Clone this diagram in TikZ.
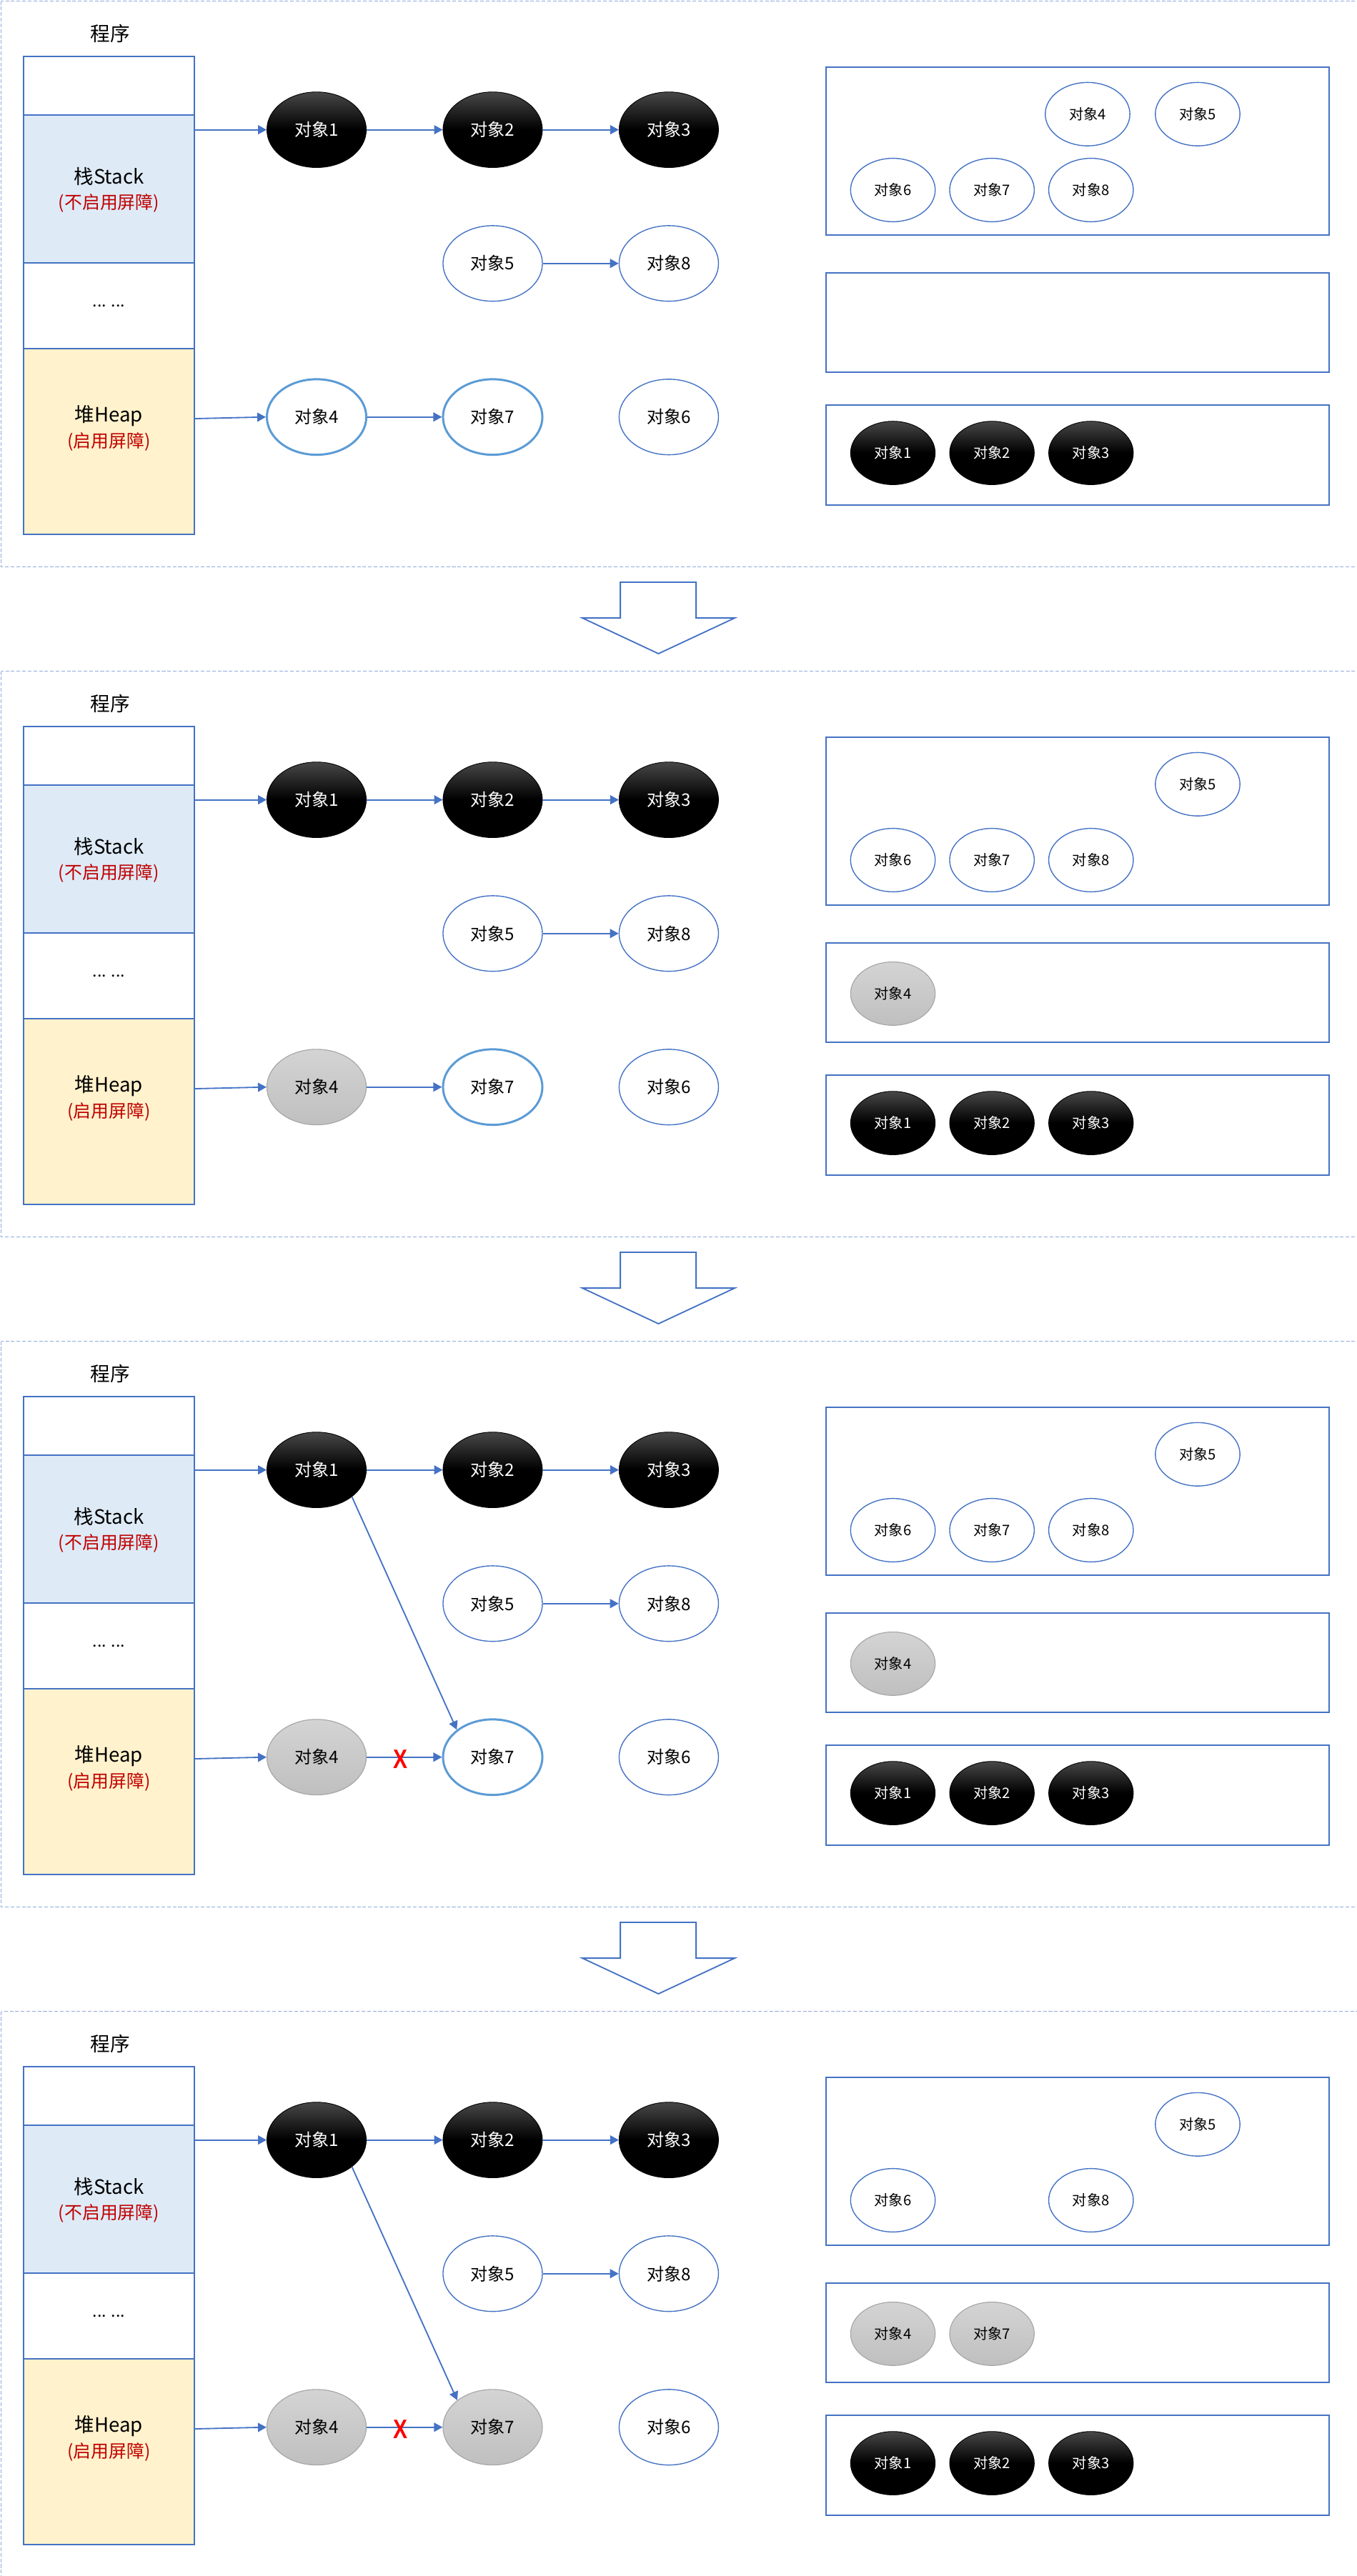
\documentclass[tikz,border=0pt]{standalone}
\usepackage{fontspec}
\setmainfont{Noto Sans CJK SC}
\newfontfamily\xmarkfont{Liberation Sans}
\usepackage{xcolor}
\usepackage{tikz}
\usetikzlibrary{shapes.geometric, arrows.meta, positioning}
\definecolor{office}{HTML}{4472C4}
\definecolor{barrier}{HTML}{5B9BD5}
\definecolor{framecol}{HTML}{8FAADC}
\definecolor{stackfill}{HTML}{DEEBF7}
\definecolor{heapfill}{HTML}{FFF2CC}
\definecolor{redtext}{HTML}{C00000}
\tikzstyle{cell} = [rectangle, draw=office, line width=0.8pt, minimum width=103.8pt, inner sep=0pt]
\tikzstyle{pool} = [rectangle, draw=office, line width=0.8pt, minimum width=306.2pt, inner sep=0pt]
\tikzstyle{obj} = [ellipse, minimum width=60.5pt, minimum height=46pt, inner sep=0pt, font=\fontsize{10.5}{12}\selectfont]
\tikzstyle{blackobj} = [obj, draw=black, top color=black!72, bottom color=black, middle color=black, text=white]
\tikzstyle{whiteobj} = [obj, draw=office, line width=0.6pt, fill=white]
\tikzstyle{heapobj} = [obj, draw=barrier, line width=1.3pt, fill=white]
\tikzstyle{greyobj} = [obj, draw=black!35, line width=0.5pt, top color=black!17, bottom color=black!25]
\tikzstyle{mini} = [minimum width=51.5pt, minimum height=38.6pt, font=\fontsize{8.8}{10}\selectfont]
\tikzstyle{arrow} = [draw=office, line width=0.8pt, -{Triangle[length=5.2pt, width=5.5pt]}]
\tikzstyle{frame} = [draw=framecol, line width=0.7pt, dash pattern=on 2.2pt off 1.2pt]
\tikzstyle{bigarrow} = [draw=office, line width=0.8pt, fill=white]
\tikzstyle{title} = [font=\fontsize{12}{14}\selectfont]
\tikzstyle{note} = [text=redtext, font=\fontsize{10.8}{12}\selectfont]
\tikzstyle{cut} = [text=red, font=\xmarkfont\bfseries\fontsize{16.3}{17}\selectfont, xscale=0.8, transform shape]

\begin{document}
\begin{tikzpicture}[x=1pt, y=-1pt, node distance=107.2pt]
	\useasboundingbox (0,0) rectangle (826,1568.5);
	\clip (0,0) rectangle (826,1568.5);

	% ---------- Step 1: initial state ----------
	\begin{scope}
		\draw [frame] (0.7,0.7) rectangle (830,345.1);

		% Program column
		\node (progtitlea) [title] at (67.2,20.4) {程序};
		\node (topa) [cell, minimum height=35.7pt] at (66.3,52.25) {};
		\node (stacka) [cell, fill=stackfill, minimum height=90.1pt] at (66.3,115.15) {};
		\node (dotsa) [cell, minimum height=52pt, font=\fontsize{10}{12}\selectfont] at (66.3,186.2) {... ...};
		\node (heapa) [cell, fill=heapfill, minimum height=113.2pt] at (66.3,268.8) {};
		\node (stacknamea) [title] at (66.3,107.6) {栈Stack};
		\node (stacknotea) [note] at (66.3,123.6) {(不启用屏障)};
		\node (heapnamea) [title] at (66.3,253.4) {堆Heap};
		\node (heapnotea) [note] at (66.3,269.2) {(启用屏障)};

		% Object graph
		\node (obj1a) [blackobj] at (192.7,79) {对象1};
		\node (obj2a) [blackobj, right of=obj1a] {对象2};
		\node (obj3a) [blackobj, right of=obj2a] {对象3};
		\node (obj5a) [whiteobj, below of=obj2a, yshift=25.8pt] {对象5};
		\node (obj8a) [whiteobj, right of=obj5a] {对象8};
		\node (obj4a) [heapobj] at (192.7,253.9) {对象4};
		\node (obj7a) [heapobj, right of=obj4a] {对象7};
		\node (obj6a) [whiteobj, right of=obj7a] {对象6};

		% Colour sets
		\node (whitesa) [pool, minimum height=102.2pt] at (655.9,92) {};
		\node (greysa) [pool, minimum height=60.6pt] at (655.9,196.3) {};
		\node (blacksa) [pool, minimum height=61.1pt] at (655.9,277.05) {};
		\node (w4a) [whiteobj, mini] at (662,69.5) {对象4};
		\node (w5a) [whiteobj, mini] at (729,69.5) {对象5};
		\node (w6a) [whiteobj, mini] at (543.5,115.7) {对象6};
		\node (w7a) [whiteobj, mini, right of=w6a, node distance=60.3pt] {对象7};
		\node (w8a) [whiteobj, mini, right of=w7a, node distance=60.3pt] {对象8};
		\node (b1a) [blackobj, mini] at (543.5,275.8) {对象1};
		\node (b2a) [blackobj, mini, right of=b1a, node distance=60.3pt] {对象2};
		\node (b3a) [blackobj, mini, right of=b2a, node distance=60.3pt] {对象3};

		% References
		\coordinate (stackouta) at (stacka.east |- obj1a);
		\coordinate (heapouta) at ([yshift=-1pt]heapa.east |- obj4a);
		\draw [arrow] (stackouta) -- (obj1a);
		\draw [arrow] (obj1a) -- (obj2a);
		\draw [arrow] (obj2a) -- (obj3a);
		\draw [arrow] (obj5a) -- (obj8a);
		\draw [arrow] (heapouta) -- (obj4a.west);
		\draw [arrow] (obj4a) -- (obj7a);

		% Transition
		\draw [bigarrow] (377.6,354.5) -- (423.7,354.5) -- (423.7,376.3) -- (447.2,376.3) -- (400.8,398) -- (354.5,376.3) -- (377.6,376.3) -- cycle;
	\end{scope}

	% ---------- Step 2: object4 turns grey ----------
	\begin{scope}[yshift=-408pt]
		\draw [frame] (0.7,0.7) rectangle (830,345.1);

		% Program column
		\node (progtitleb) [title] at (67.2,20.4) {程序};
		\node (topb) [cell, minimum height=35.7pt] at (66.3,52.25) {};
		\node (stackb) [cell, fill=stackfill, minimum height=90.1pt] at (66.3,115.15) {};
		\node (dotsb) [cell, minimum height=52pt, font=\fontsize{10}{12}\selectfont] at (66.3,186.2) {... ...};
		\node (heapb) [cell, fill=heapfill, minimum height=113.2pt] at (66.3,268.8) {};
		\node (stacknameb) [title] at (66.3,107.6) {栈Stack};
		\node (stacknoteb) [note] at (66.3,123.6) {(不启用屏障)};
		\node (heapnameb) [title] at (66.3,253.4) {堆Heap};
		\node (heapnoteb) [note] at (66.3,269.2) {(启用屏障)};

		% Object graph
		\node (obj1b) [blackobj] at (192.7,79) {对象1};
		\node (obj2b) [blackobj, right of=obj1b] {对象2};
		\node (obj3b) [blackobj, right of=obj2b] {对象3};
		\node (obj5b) [whiteobj, below of=obj2b, yshift=25.8pt] {对象5};
		\node (obj8b) [whiteobj, right of=obj5b] {对象8};
		\node (obj4b) [greyobj] at (192.7,253.9) {对象4};
		\node (obj7b) [heapobj, right of=obj4b] {对象7};
		\node (obj6b) [whiteobj, right of=obj7b] {对象6};

		% Colour sets
		\node (whitesb) [pool, minimum height=102.2pt] at (655.9,92) {};
		\node (greysb) [pool, minimum height=60.6pt] at (655.9,196.3) {};
		\node (blacksb) [pool, minimum height=61.1pt] at (655.9,277.05) {};
		\node (w5b) [whiteobj, mini] at (729,69.5) {对象5};
		\node (w6b) [whiteobj, mini] at (543.5,115.7) {对象6};
		\node (w7b) [whiteobj, mini, right of=w6b, node distance=60.3pt] {对象7};
		\node (w8b) [whiteobj, mini, right of=w7b, node distance=60.3pt] {对象8};
		\node (g4b) [greyobj, mini] at (543.5,197) {对象4};
		\node (b1b) [blackobj, mini] at (543.5,275.8) {对象1};
		\node (b2b) [blackobj, mini, right of=b1b, node distance=60.3pt] {对象2};
		\node (b3b) [blackobj, mini, right of=b2b, node distance=60.3pt] {对象3};

		% References
		\coordinate (stackoutb) at (stackb.east |- obj1b);
		\coordinate (heapoutb) at ([yshift=-1pt]heapb.east |- obj4b);
		\draw [arrow] (stackoutb) -- (obj1b);
		\draw [arrow] (obj1b) -- (obj2b);
		\draw [arrow] (obj2b) -- (obj3b);
		\draw [arrow] (obj5b) -- (obj8b);
		\draw [arrow] (heapoutb) -- (obj4b.west);
		\draw [arrow] (obj4b) -- (obj7b);

		% Transition
		\draw [bigarrow] (377.6,354.5) -- (423.7,354.5) -- (423.7,376.3) -- (447.2,376.3) -- (400.8,398) -- (354.5,376.3) -- (377.6,376.3) -- cycle;
	\end{scope}

	% ---------- Step 3: object1 takes object7, object4 drops it ----------
	\begin{scope}[yshift=-816pt]
		\draw [frame] (0.7,0.7) rectangle (830,345.1);

		% Program column
		\node (progtitlec) [title] at (67.2,20.4) {程序};
		\node (topc) [cell, minimum height=35.7pt] at (66.3,52.25) {};
		\node (stackc) [cell, fill=stackfill, minimum height=90.1pt] at (66.3,115.15) {};
		\node (dotsc) [cell, minimum height=52pt, font=\fontsize{10}{12}\selectfont] at (66.3,186.2) {... ...};
		\node (heapc) [cell, fill=heapfill, minimum height=113.2pt] at (66.3,268.8) {};
		\node (stacknamec) [title] at (66.3,107.6) {栈Stack};
		\node (stacknotec) [note] at (66.3,123.6) {(不启用屏障)};
		\node (heapnamec) [title] at (66.3,253.4) {堆Heap};
		\node (heapnotec) [note] at (66.3,269.2) {(启用屏障)};

		% Object graph
		\node (obj1c) [blackobj] at (192.7,79) {对象1};
		\node (obj2c) [blackobj, right of=obj1c] {对象2};
		\node (obj3c) [blackobj, right of=obj2c] {对象3};
		\node (obj5c) [whiteobj, below of=obj2c, yshift=25.8pt] {对象5};
		\node (obj8c) [whiteobj, right of=obj5c] {对象8};
		\node (obj4c) [greyobj] at (192.7,253.9) {对象4};
		\node (obj7c) [heapobj, right of=obj4c] {对象7};
		\node (obj6c) [whiteobj, right of=obj7c] {对象6};

		% Colour sets
		\node (whitesc) [pool, minimum height=102.2pt] at (655.9,92) {};
		\node (greysc) [pool, minimum height=60.6pt] at (655.9,196.3) {};
		\node (blacksc) [pool, minimum height=61.1pt] at (655.9,277.05) {};
		\node (w5c) [whiteobj, mini] at (729,69.5) {对象5};
		\node (w6c) [whiteobj, mini] at (543.5,115.7) {对象6};
		\node (w7c) [whiteobj, mini, right of=w6c, node distance=60.3pt] {对象7};
		\node (w8c) [whiteobj, mini, right of=w7c, node distance=60.3pt] {对象8};
		\node (g4c) [greyobj, mini] at (543.5,197) {对象4};
		\node (b1c) [blackobj, mini] at (543.5,275.8) {对象1};
		\node (b2c) [blackobj, mini, right of=b1c, node distance=60.3pt] {对象2};
		\node (b3c) [blackobj, mini, right of=b2c, node distance=60.3pt] {对象3};

		% References
		\coordinate (stackoutc) at (stackc.east |- obj1c);
		\coordinate (heapoutc) at ([yshift=-1pt]heapc.east |- obj4c);
		\draw [arrow] (stackoutc) -- (obj1c);
		\draw [arrow] (obj1c) -- (obj2c);
		\draw [arrow] (obj2c) -- (obj3c);
		\draw [arrow] (obj5c) -- (obj8c);
		\draw [arrow] (heapoutc) -- (obj4c.west);
		\draw [arrow] (obj4c) -- (obj7c);
		\draw [arrow] (obj1c.south east) -- (obj7c.north west);
		\node (cutc) [cut] at (243.6,255) {X};

		% Transition
		\draw [bigarrow] (377.6,354.5) -- (423.7,354.5) -- (423.7,376.3) -- (447.2,376.3) -- (400.8,398) -- (354.5,376.3) -- (377.6,376.3) -- cycle;
	\end{scope}

	% ---------- Step 4: write barrier greys object7 ----------
	\begin{scope}[yshift=-1224pt]
		\draw [frame] (0.7,0.7) rectangle (830,360);

		% Program column
		\node (progtitled) [title] at (67.2,20.4) {程序};
		\node (topd) [cell, minimum height=35.7pt] at (66.3,52.25) {};
		\node (stackd) [cell, fill=stackfill, minimum height=90.1pt] at (66.3,115.15) {};
		\node (dotsd) [cell, minimum height=52pt, font=\fontsize{10}{12}\selectfont] at (66.3,186.2) {... ...};
		\node (heapd) [cell, fill=heapfill, minimum height=113.2pt] at (66.3,268.8) {};
		\node (stacknamed) [title] at (66.3,107.6) {栈Stack};
		\node (stacknoted) [note] at (66.3,123.6) {(不启用屏障)};
		\node (heapnamed) [title] at (66.3,253.4) {堆Heap};
		\node (heapnoted) [note] at (66.3,269.2) {(启用屏障)};

		% Object graph
		\node (obj1d) [blackobj] at (192.7,79) {对象1};
		\node (obj2d) [blackobj, right of=obj1d] {对象2};
		\node (obj3d) [blackobj, right of=obj2d] {对象3};
		\node (obj5d) [whiteobj, below of=obj2d, yshift=25.8pt] {对象5};
		\node (obj8d) [whiteobj, right of=obj5d] {对象8};
		\node (obj4d) [greyobj] at (192.7,253.9) {对象4};
		\node (obj7d) [greyobj, right of=obj4d] {对象7};
		\node (obj6d) [whiteobj, right of=obj7d] {对象6};

		% Colour sets
		\node (whitesd) [pool, minimum height=102.2pt] at (655.9,92) {};
		\node (greysd) [pool, minimum height=60.6pt] at (655.9,196.3) {};
		\node (blacksd) [pool, minimum height=61.1pt] at (655.9,277.05) {};
		\node (w5d) [whiteobj, mini] at (729,69.5) {对象5};
		\node (w6d) [whiteobj, mini] at (543.5,115.7) {对象6};
		\node (w8d) [whiteobj, mini, right of=w6d, node distance=120.6pt] {对象8};
		\node (g4d) [greyobj, mini] at (543.5,197) {对象4};
		\node (g7d) [greyobj, mini, right of=g4d, node distance=60.3pt] {对象7};
		\node (b1d) [blackobj, mini] at (543.5,275.8) {对象1};
		\node (b2d) [blackobj, mini, right of=b1d, node distance=60.3pt] {对象2};
		\node (b3d) [blackobj, mini, right of=b2d, node distance=60.3pt] {对象3};

		% References
		\coordinate (stackoutd) at (stackd.east |- obj1d);
		\coordinate (heapoutd) at ([yshift=-1pt]heapd.east |- obj4d);
		\draw [arrow] (stackoutd) -- (obj1d);
		\draw [arrow] (obj1d) -- (obj2d);
		\draw [arrow] (obj2d) -- (obj3d);
		\draw [arrow] (obj5d) -- (obj8d);
		\draw [arrow] (heapoutd) -- (obj4d.west);
		\draw [arrow] (obj4d) -- (obj7d);
		\draw [arrow] (obj1d.south east) -- (obj7d.north west);
		\node (cutd) [cut] at (243.6,255) {X};
	\end{scope}

\end{tikzpicture}
\end{document}
